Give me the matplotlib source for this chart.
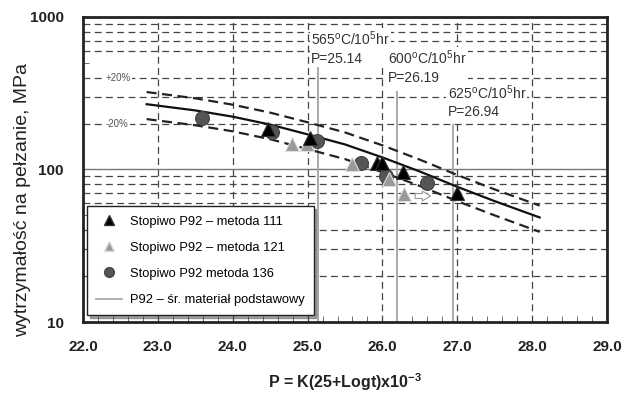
import matplotlib
matplotlib.use('Agg')
import matplotlib.pyplot as plt
from matplotlib.lines import Line2D
from matplotlib.ticker import FixedLocator, NullFormatter

plt.rcParams['font.family'] = ['Liberation Sans', 'DejaVu Sans']
plt.rcParams['mathtext.fontset'] = 'custom'
plt.rcParams['mathtext.rm'] = 'Liberation Sans'
plt.rcParams['mathtext.bf'] = 'Liberation Sans:bold'

# '''data read from the picture'''
# mean curve of base material and +/-20% scatter band
P_mean = [22.85, 23.5, 24.0, 24.5, 25.0, 25.5, 26.0, 26.5, 27.0, 27.5, 28.1]
S_mean = [268, 244, 222, 197, 170, 146, 120, 97, 77, 62, 48.5]
S_upper = [322, 293, 266, 236, 204, 175, 144, 116, 92, 74, 58]
S_lower = [214, 195, 178, 158, 136, 117, 96, 78, 62, 50, 39]

# Stopiwo P92 - metoda 111
P_111 = [24.47, 25.03, 25.93, 26.0, 26.27, 27.0]
S_111 = [183, 162, 111, 111, 96, 70.5]
# Stopiwo P92 - metoda 121
P_121 = [24.79, 24.99, 25.6, 26.09, 26.29]
S_121 = [146, 146, 108, 86, 68.6]
# Stopiwo P92 metoda 136
P_136 = [23.59, 24.52, 25.12, 25.72, 26.05, 26.6]
S_136 = [219, 177, 153, 111, 90, 82]

# 10^5 h rupture references
ref_P = [25.14, 26.19, 26.94]
ref_top = [470, 320, 197]
ref_labels = ['565$\\mathregular{^o}$C/10$\\mathregular{^5}$hr\nP=25.14',
              '600$\\mathregular{^o}$C/10$\\mathregular{^5}$hr\nP=26.19',
              '625$\\mathregular{^o}$C/10$\\mathregular{^5}$hr\nP=26.94']
ref_text_xy = [(25.05, 480), (26.07, 360), (26.87, 213)]

xticks = [22.0, 23.0, 24.0, 25.0, 26.0, 27.0, 28.0, 29.0]
ygrid = [20, 30, 40, 60, 70, 80, 90, 200, 300, 400, 600, 700, 800, 900]
yminor = [20, 30, 40, 50, 60, 70, 80, 90, 200, 300, 400, 500, 600, 700, 800, 900]

fig = plt.figure(figsize=(6.25, 3.94), dpi=100)
ax = fig.add_axes([0.1328, 0.1827, 0.8384, 0.7742])
ax.set_yscale('log')
ax.set_xlim(22.0, 29.0)
ax.set_ylim(10, 1000)

# grid
for x in xticks[1:-1]:
    ax.axvline(x, color='#444444', lw=0.9, ls=(0, (5.5, 3.5)), zorder=1)
for y in ygrid:
    ax.axhline(y, color='#444444', lw=0.9, ls=(0, (5.5, 3.5)), zorder=1)
ax.axhline(100, color='#777777', lw=1.0, zorder=1)

# reference verticals + labels
for p, top, lab, (tx, ty) in zip(ref_P, ref_top, ref_labels, ref_text_xy):
    ax.plot([p, p], [10, top], color='#aaaaaa', lw=1.4, zorder=2)
    t = ax.text(tx, ty, lab, fontsize=10, color='#333333', ha='left', va='bottom',
                linespacing=1.3, zorder=3)
    t.set_bbox(dict(facecolor='white', edgecolor='none', pad=1.0))

# band and mean
ax.plot(P_mean, S_upper, color='#222222', lw=1.6, ls=(0, (4.5, 2.5)), zorder=4)
ax.plot(P_mean, S_lower, color='#222222', lw=1.6, ls=(0, (4.5, 2.5)), zorder=4)
ax.plot(P_mean, S_mean, color='#111111', lw=1.6, zorder=4)

for txt, yv in [('+20%', 400), ('-20%', 200)]:
    t = ax.text(22.3, yv, txt, fontsize=7, color='#555555', ha='left', va='center', zorder=3)
    t.set_bbox(dict(facecolor='white', edgecolor='none', pad=1.0))

# points
ax.plot(P_136, S_136, 'o', ms=10, mfc='#555555', mec='#444444', mew=0.8, zorder=5)
ax.plot(P_121, S_121, '^', ms=10, mfc='#999999', mec='#dddddd', mew=0.8, zorder=6)
ax.plot(P_111, S_111, '^', ms=10, mfc='black', mec='#333333', mew=0.8, zorder=6)

ax.annotate('', xy=(26.68, 67), xytext=(26.4, 67),
            arrowprops=dict(arrowstyle='simple,head_width=0.7,head_length=0.6,tail_width=0.35',
                            fc='white', ec='#999999', lw=0.8), zorder=6)

# axes cosmetics
ax.set_xticks(xticks)
ax.set_xticklabels(['%.1f' % v for v in xticks], fontsize=11, fontweight='bold', color='#222222')
ax.xaxis.set_minor_locator(FixedLocator([22 + 0.2 * i for i in range(36)]))
ax.yaxis.set_major_locator(FixedLocator([10, 100, 1000]))
ax.set_yticklabels(['10', '100', '1000'], fontsize=11, fontweight='bold', color='#222222')
ax.yaxis.set_minor_locator(FixedLocator(yminor))
ax.yaxis.set_minor_formatter(NullFormatter())
ax.tick_params(which='both', direction='in', top=False, right=False)
ax.tick_params(axis='x', which='major', length=0, pad=13)
ax.tick_params(axis='y', which='major', length=0, pad=14)
ax.tick_params(which='minor', length=4, color='#555555')
for s in ax.spines.values():
    s.set_linewidth(2.0)
    s.set_color('#222222')

ax.set_xlabel('P = K(25+Logt)x10$\\mathregular{^{-3}}$', fontsize=11.5, fontweight='bold',
              color='#222222')
ax.xaxis.set_label_coords(0.5, -0.16)
ax.set_ylabel('wytrzymałość na pełzanie, MPa', fontsize=14, color='#222222')
ax.yaxis.set_label_coords(-0.1, 0.4)

handles = [
    Line2D([], [], marker='^', ls='none', ms=7, mfc='black', mec='#333333'),
    Line2D([], [], marker='^', ls='none', ms=7, mfc='#999999', mec='#dddddd'),
    Line2D([], [], marker='o', ls='none', ms=7, mfc='#555555', mec='#444444'),
    Line2D([], [], color='#aaaaaa', lw=1.3),
]
labels = ['Stopiwo P92 – metoda 111', 'Stopiwo P92 – metoda 121',
          'Stopiwo P92 metoda 136', 'P92 – śr. materiał podstawowy']
leg = ax.legend(handles, labels, loc='lower left', bbox_to_anchor=(0.008, 0.022),
                fontsize=9.3, frameon=True, fancybox=False, shadow=True,
                handlelength=2.0, labelspacing=1.1, borderpad=0.7, handletextpad=0.6,
                borderaxespad=0)
leg.get_frame().set_edgecolor('#222222')
leg.get_frame().set_linewidth(1.0)
leg.set_zorder(10)

fig.savefig('out.png', dpi=100)
